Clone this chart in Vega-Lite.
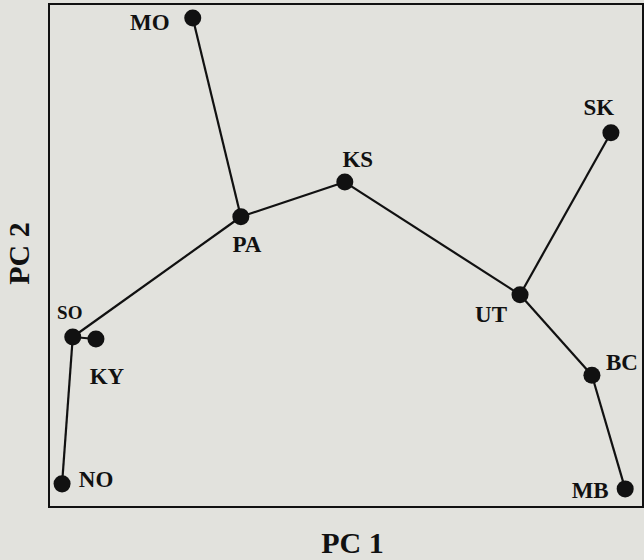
{
  "$schema": "https://vega.github.io/schema/vega-lite/v6.json",
  "width": 594,
  "height": 503,
  "autosize": {"type": "none"},
  "padding": {"left": 49, "top": 4, "right": 1, "bottom": 53},
  "background": "#e2e2dd",
  "config": {
    "view": {"stroke": "#111111", "strokeWidth": 2, "fill": "#e2e2dd"},
    "font": "Liberation Serif",
    "axis": {
      "domain": false, "ticks": false, "labels": false, "grid": false,
      "titleFont": "Liberation Serif", "titleFontWeight": "bold", "titleFontSize": 30,
      "titleColor": "#111111", "titleBaseline": "alphabetic", "titleAlign": "center"
    },
    "axisX": {"titleX": 303, "titleY": 45},
    "axisY": {"titleX": -21, "titleY": 249, "titleAngle": -90}
  },
  "datasets": {
    "points": [
      {"id": "MO", "pc1": 2.42, "pc2": 9.72},
      {"id": "PA", "pc1": 3.23, "pc2": 5.77},
      {"id": "KS", "pc1": 4.98, "pc2": 6.46},
      {"id": "SK", "pc1": 9.46, "pc2": 7.44},
      {"id": "UT", "pc1": 7.93, "pc2": 4.22},
      {"id": "BC", "pc1": 9.14, "pc2": 2.62},
      {"id": "MB", "pc1": 9.70, "pc2": 0.36},
      {"id": "SO", "pc1": 0.40, "pc2": 3.38},
      {"id": "KY", "pc1": 0.79, "pc2": 3.34},
      {"id": "NO", "pc1": 0.22, "pc2": 0.46}
    ],
    "edges": [
      {"from": "MO", "to": "PA"},
      {"from": "PA", "to": "KS"},
      {"from": "PA", "to": "SO"},
      {"from": "SO", "to": "KY"},
      {"from": "SO", "to": "NO"},
      {"from": "KS", "to": "UT"},
      {"from": "UT", "to": "SK"},
      {"from": "UT", "to": "BC"},
      {"from": "BC", "to": "MB"}
    ]
  },
  "layer": [
    {
      "data": {"name": "edges"},
      "transform": [
        {"lookup": "from", "from": {"data": {"name": "points"}, "key": "id", "fields": ["pc1", "pc2"]}, "as": ["x1", "y1"]},
        {"lookup": "to", "from": {"data": {"name": "points"}, "key": "id", "fields": ["pc1", "pc2"]}, "as": ["x2", "y2"]}
      ],
      "mark": {"type": "rule", "stroke": "#111111", "strokeWidth": 2.2},
      "encoding": {
        "x": {"field": "x1", "type": "quantitative", "title": "PC 1", "scale": {"domain": [0, 10], "nice": false, "zero": false}},
        "y": {"field": "y1", "type": "quantitative", "title": "PC 2", "scale": {"domain": [0, 10], "nice": false, "zero": false}},
        "x2": {"field": "x2"},
        "y2": {"field": "y2"}
      }
    },
    {
      "data": {"name": "points"},
      "layer": [
        {
          "mark": {"type": "circle", "size": 290, "opacity": 1, "color": "#111111"},
          "encoding": {
            "x": {"field": "pc1", "type": "quantitative", "title": "PC 1"},
            "y": {"field": "pc2", "type": "quantitative", "title": "PC 2"}
          }
        },
        {"transform": [{"filter": "datum.id == 'MO'"}], "mark": {"type": "text", "fontSize": 23, "fontWeight": "bold", "color": "#111111", "baseline": "alphabetic", "align": "center", "dx": -43, "dy": 12}, "encoding": {"x": {"field": "pc1", "type": "quantitative", "title": "PC 1"}, "y": {"field": "pc2", "type": "quantitative", "title": "PC 2"}, "text": {"field": "id"}}},
        {"transform": [{"filter": "datum.id == 'PA'"}], "mark": {"type": "text", "fontSize": 23, "fontWeight": "bold", "color": "#111111", "baseline": "alphabetic", "align": "center", "dx": 6, "dy": 35}, "encoding": {"x": {"field": "pc1", "type": "quantitative", "title": "PC 1"}, "y": {"field": "pc2", "type": "quantitative", "title": "PC 2"}, "text": {"field": "id"}}},
        {"transform": [{"filter": "datum.id == 'KS'"}], "mark": {"type": "text", "fontSize": 23, "fontWeight": "bold", "color": "#111111", "baseline": "alphabetic", "align": "center", "dx": 13, "dy": -15}, "encoding": {"x": {"field": "pc1", "type": "quantitative", "title": "PC 1"}, "y": {"field": "pc2", "type": "quantitative", "title": "PC 2"}, "text": {"field": "id"}}},
        {"transform": [{"filter": "datum.id == 'SK'"}], "mark": {"type": "text", "fontSize": 23, "fontWeight": "bold", "color": "#111111", "baseline": "alphabetic", "align": "center", "dx": -12, "dy": -18}, "encoding": {"x": {"field": "pc1", "type": "quantitative", "title": "PC 1"}, "y": {"field": "pc2", "type": "quantitative", "title": "PC 2"}, "text": {"field": "id"}}},
        {"transform": [{"filter": "datum.id == 'UT'"}], "mark": {"type": "text", "fontSize": 23, "fontWeight": "bold", "color": "#111111", "baseline": "alphabetic", "align": "center", "dx": -29, "dy": 27}, "encoding": {"x": {"field": "pc1", "type": "quantitative", "title": "PC 1"}, "y": {"field": "pc2", "type": "quantitative", "title": "PC 2"}, "text": {"field": "id"}}},
        {"transform": [{"filter": "datum.id == 'BC'"}], "mark": {"type": "text", "fontSize": 23, "fontWeight": "bold", "color": "#111111", "baseline": "alphabetic", "align": "center", "dx": 30, "dy": -5}, "encoding": {"x": {"field": "pc1", "type": "quantitative", "title": "PC 1"}, "y": {"field": "pc2", "type": "quantitative", "title": "PC 2"}, "text": {"field": "id"}}},
        {"transform": [{"filter": "datum.id == 'MB'"}], "mark": {"type": "text", "fontSize": 23, "fontWeight": "bold", "color": "#111111", "baseline": "alphabetic", "align": "center", "dx": -35, "dy": 9}, "encoding": {"x": {"field": "pc1", "type": "quantitative", "title": "PC 1"}, "y": {"field": "pc2", "type": "quantitative", "title": "PC 2"}, "text": {"field": "id"}}},
        {"transform": [{"filter": "datum.id == 'SO'"}], "mark": {"type": "text", "fontSize": 19, "fontWeight": "bold", "color": "#111111", "baseline": "alphabetic", "align": "center", "dx": -3, "dy": -18}, "encoding": {"x": {"field": "pc1", "type": "quantitative", "title": "PC 1"}, "y": {"field": "pc2", "type": "quantitative", "title": "PC 2"}, "text": {"field": "id"}}},
        {"transform": [{"filter": "datum.id == 'KY'"}], "mark": {"type": "text", "fontSize": 23, "fontWeight": "bold", "color": "#111111", "baseline": "alphabetic", "align": "center", "dx": 11, "dy": 45}, "encoding": {"x": {"field": "pc1", "type": "quantitative", "title": "PC 1"}, "y": {"field": "pc2", "type": "quantitative", "title": "PC 2"}, "text": {"field": "id"}}},
        {"transform": [{"filter": "datum.id == 'NO'"}], "mark": {"type": "text", "fontSize": 23, "fontWeight": "bold", "color": "#111111", "baseline": "alphabetic", "align": "center", "dx": 34, "dy": 3}, "encoding": {"x": {"field": "pc1", "type": "quantitative", "title": "PC 1"}, "y": {"field": "pc2", "type": "quantitative", "title": "PC 2"}, "text": {"field": "id"}}}
      ]
    }
  ]
}
